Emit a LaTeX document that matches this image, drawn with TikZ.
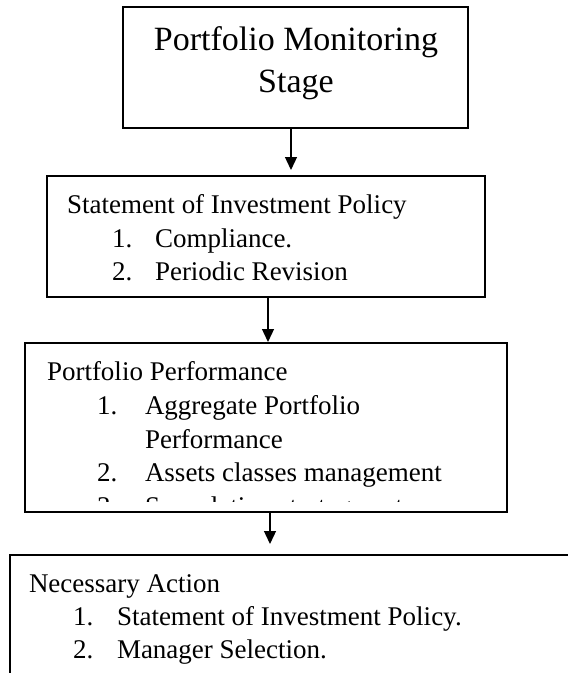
\documentclass[tikz,border=0pt]{standalone}
\usepackage{fontspec}
\setmainfont{Liberation Serif}
\usetikzlibrary{arrows.meta}
\tikzset{
  box/.style={draw=black, line width=1.3pt, rectangle, inner sep=0pt, outer sep=0pt},
  txt/.style={anchor=base west, inner sep=0pt, outer sep=0pt, font=\fontsize{27}{33}\selectfont},
  big/.style={anchor=base, inner sep=0pt, outer sep=0pt, font=\fontsize{34}{40}\selectfont},
  arr/.style={line width=1.3pt, -{Triangle[width=12pt,length=13pt]}}
}
\begin{document}
\begin{tikzpicture}[x=1pt,y=-1pt]
\fill[white] (0,0) rectangle (568,673);
\useasboundingbox (0,0) rectangle (568,673);
\clip (0,0) rectangle (568,673);
% boxes
\node[box, minimum width=345pt, minimum height=121pt] (b1) at (295.5,67.5) {};
\node[box, minimum width=438pt, minimum height=121pt] (b2) at (266,236.5) {};
\node[box, minimum width=482pt, minimum height=169pt] (b3) at (266,427.5) {};
\node[box, minimum width=610pt, minimum height=165pt] (b4) at (315,637.5) {};
% box 1 text
\node[big] (t1a) at (296,50) {Portfolio Monitoring};
\node[big] (t1b) at (296,92) {Stage};
% box 2 text
\node[txt] (t2a) at (67,213) {Statement of Investment Policy};
\node[txt] (t2b) at (112,247) {1.};
\node[txt] (t2c) at (155,247) {Compliance.};
\node[txt] (t2d) at (112,280) {2.};
\node[txt] (t2e) at (155,280) {Periodic Revision};
% box 3 text
\node[txt] (t3a) at (47,380) {Portfolio Performance};
\node[txt] (t3b) at (97,414) {1.};
\node[txt] (t3c) at (145,414) {Aggregate Portfolio};
\node[txt] (t3d) at (145,448) {Performance};
\node[txt] (t3e) at (97,481) {2.};
\node[txt] (t3f) at (145,481) {Assets classes management};
\begin{scope}
\clip (30,490) rectangle (500,501.5);
\node[txt] (t3g) at (97,515) {3.};
\node[txt] (t3h) at (145,515) {Speculation strategy act};
\end{scope}
% box 4 text
\node[txt] (t4a) at (29,592) {Necessary Action};
\node[txt] (t4b) at (73,625) {1.};
\node[txt] (t4c) at (117,625) {Statement of Investment Policy.};
\node[txt] (t4d) at (73,658) {2.};
\node[txt] (t4e) at (117,658) {Manager Selection.};
% connectors
\coordinate (a1) at ([xshift=-4.5pt]b1.south);
\coordinate (a2) at ([xshift=2pt]b2.south);
\coordinate (a3) at ([xshift=4pt]b3.south);
\draw[arr, shorten >=6pt] (a1) -- (a1 |- b2.north);
\draw[arr, shorten >=1pt] (a2) -- (a2 |- b3.north);
\draw[arr, shorten >=11pt] (a3) -- (a3 |- b4.north);
\end{tikzpicture}
\end{document}
